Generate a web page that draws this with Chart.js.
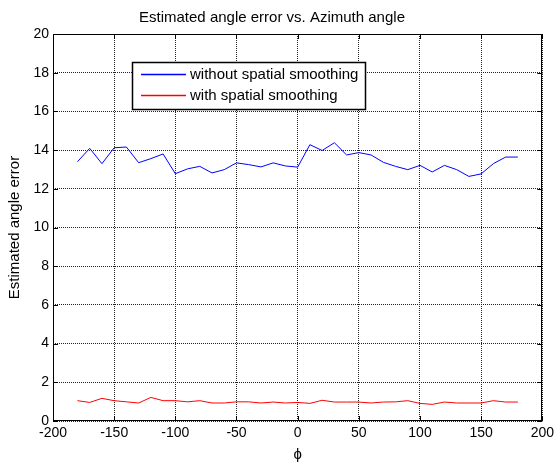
<!DOCTYPE html>
<html>
<head>
<meta charset="utf-8">
<script src="https://cdn.jsdelivr.net/npm/chart.js@4/dist/chart.umd.min.js"></script>
<style>
  html, body { margin: 0; padding: 0; background: #fff; }
  #wrap { width: 558px; height: 464px; }
</style>
</head>
<body>
<div id="wrap"><canvas id="lineChart" width="558" height="464"></canvas></div>
<script>
// angoli azimut (gradi)
var phi = [-180, -170, -160, -150, -140, -130, -120, -110, -100, -90, -80, -70, -60, -50, -40, -30, -20, -10, 0,
  10, 20, 30, 40, 50, 60, 70, 80, 90, 100, 110, 120, 130, 140, 150, 160, 170, 180];

// errore senza smoothing
var withoutSmoothing = [13.40, 14.09, 13.30, 14.12, 14.16, 13.35, 13.56, 13.80, 12.78, 13.03, 13.16, 12.82, 12.99,
  13.34, 13.25, 13.13, 13.34, 13.18, 13.12, 14.28, 13.98, 14.38, 13.75, 13.87, 13.75, 13.37, 13.16, 12.99,
  13.21, 12.87, 13.21, 12.99, 12.64, 12.77, 13.30, 13.64, 13.64];

// errore con smoothing
var withSmoothing = [1.05, 0.96, 1.17, 1.05, 0.99, 0.93, 1.22, 1.05, 1.05, 0.99, 1.05, 0.93, 0.93, 0.99, 0.99,
  0.93, 0.98, 0.93, 0.96, 0.91, 1.07, 0.98, 0.98, 0.98, 0.93, 0.98, 0.99, 1.05, 0.91, 0.86, 0.98, 0.93,
  0.93, 0.93, 1.05, 0.98, 0.98];

var seriesNames = ["without spatial smoothing", "with spatial smoothing"];
var seriesColors = ["#0000ff", "#ff0000"];
var xTicks = [-200, -150, -100, -50, 0, 50, 100, 150, 200];
var yTicks = [0, 2, 4, 6, 8, 10, 12, 14, 16, 18, 20];

var FONT = "'Liberation Sans', Arial, sans-serif";

function toPoints(xs, ys) {
  return xs.map(function(x, i) { return { x: x, y: ys[i] }; });
}

// box, tacche interne e legenda stile matlab
var matlabBox = {
  id: "matlabBox",
  afterDraw: function(chart) {
    var c = chart.ctx;
    var a = chart.chartArea;
    var sx = chart.scales.x, sy = chart.scales.y;
    c.save();
    c.setLineDash([]);
    c.strokeStyle = "#000";
    c.lineWidth = 1;
    c.strokeRect(Math.round(a.left) + 0.5, Math.round(a.top) + 0.5,
      Math.round(a.right - a.left) - 1, Math.round(a.bottom - a.top) - 1);
    c.beginPath();
    xTicks.forEach(function(v) {
      var px = Math.round(sx.getPixelForValue(v)) + 0.5;
      c.moveTo(px, a.bottom); c.lineTo(px, a.bottom - 5);
      c.moveTo(px, a.top); c.lineTo(px, a.top + 5);
    });
    yTicks.forEach(function(v) {
      var py = Math.round(sy.getPixelForValue(v)) + 0.5;
      c.moveTo(a.left, py); c.lineTo(a.left + 5, py);
      c.moveTo(a.right, py); c.lineTo(a.right - 5, py);
    });
    c.stroke();

    // legenda
    var lx = 132, ly = 62, lw = 233, lh = 47;
    c.fillStyle = "#fff";
    c.fillRect(lx, ly, lw, lh);
    c.lineWidth = 1.5;
    c.strokeRect(lx + 0.5, ly + 0.5, lw, lh);
    c.font = "15px " + FONT;
    c.textBaseline = "middle";
    for (var i = 0; i < seriesNames.length; i++) {
      var rowY = ly + 12 + i * 21;
      c.fillStyle = seriesColors[i];
      c.fillRect(lx + 9, rowY - 0.25, 45, 1.5);
      c.fillStyle = "#000";
      c.fillText(seriesNames[i], lx + 58, rowY + 0.5);
    }
    c.restore();
  }
};

var ctx = document.getElementById('lineChart').getContext('2d');
new Chart(ctx, {
  type: 'line',
  data: {
    datasets: [{
      label: seriesNames[0],
      data: toPoints(phi, withoutSmoothing),
      borderColor: seriesColors[0],
      borderWidth: 1,
      pointRadius: 0,
      tension: 0
    }, {
      label: seriesNames[1],
      data: toPoints(phi, withSmoothing),
      borderColor: seriesColors[1],
      borderWidth: 1,
      pointRadius: 0,
      tension: 0
    }]
  },
  options: {
    responsive: false,
    animation: false,
    layout: { padding: { left: 0, right: 14, top: 0, bottom: 0 } },
    plugins: {
      legend: { display: false },
      tooltip: { enabled: false },
      title: {
        display: true,
        text: 'Estimated angle error vs. Azimuth angle',
        color: '#000',
        font: { family: FONT, size: 15, weight: 'normal', lineHeight: 1.2 },
        padding: { top: 9, bottom: 7 }
      }
    },
    scales: {
      x: {
        type: 'linear',
        min: -200,
        max: 200,
        afterBuildTicks: function(s) { s.ticks = xTicks.map(function(v) { return { value: v }; }); },
        afterFit: function(s) { s.height = 43; },
        ticks: { color: '#000', font: { family: FONT, size: 14 }, padding: 4, maxRotation: 0 },
        grid: { color: '#222', drawTicks: false },
        border: { display: false, dash: [1, 1] },
        title: {
          display: true, text: 'ϕ', color: '#000',
          font: { family: FONT, size: 15 }, padding: { top: 0, bottom: 0 }
        }
      },
      y: {
        min: 0,
        max: 20,
        afterBuildTicks: function(s) { s.ticks = yTicks.map(function(v) { return { value: v }; }); },
        afterFit: function(s) { s.width = 53; },
        ticks: { color: '#000', font: { family: FONT, size: 14 }, padding: 4 },
        grid: { color: '#222', drawTicks: false },
        border: { display: false, dash: [1, 1] },
        title: {
          display: true, text: 'Estimated angle error', color: '#000',
          font: { family: FONT, size: 15 }, padding: { top: 6, bottom: 0 }
        }
      }
    }
  },
  plugins: [matlabBox]
});
</script>
</body>
</html>
